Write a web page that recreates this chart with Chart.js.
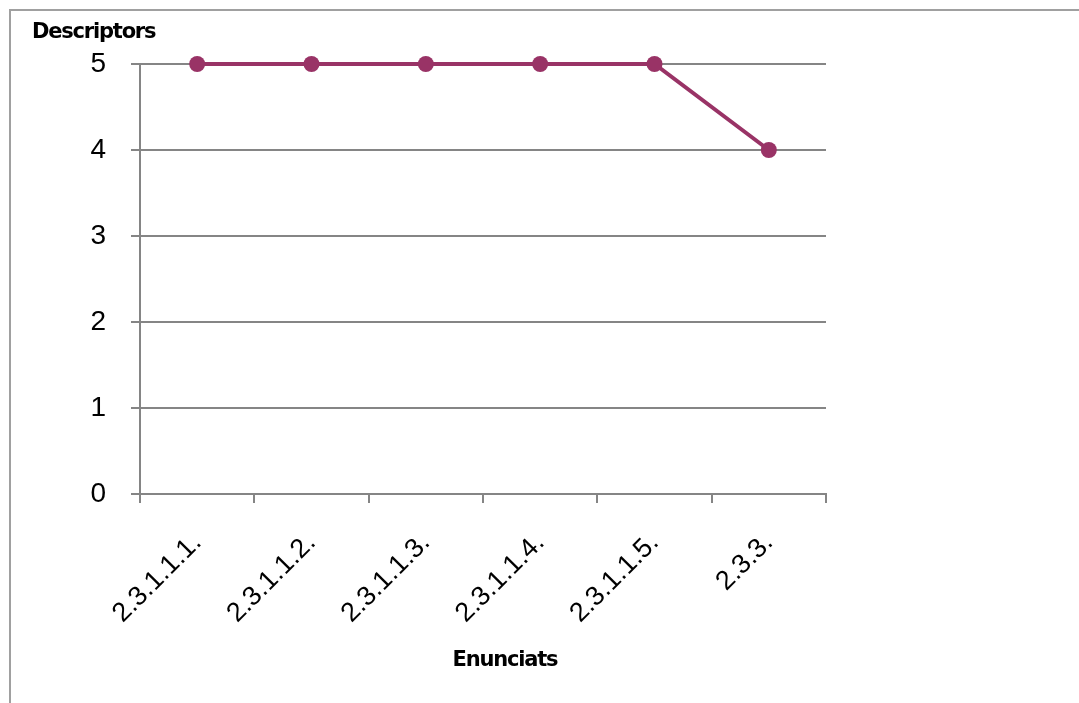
<!DOCTYPE html>
<html>
<head>
<meta charset="utf-8">
<script src="https://cdn.jsdelivr.net/npm/chart.js@4"></script>
<style>
  html, body { margin: 0; padding: 0; background: #fff; }
  #frame {
    position: absolute; left: 9px; top: 9px; width: 1200px; height: 800px;
    border-left: 2px solid #a0a0a0; border-top: 2px solid #a0a0a0;
  }
  #wrap { position: absolute; left: 0; top: 0; width: 1079px; height: 703px; }
</style>
</head>
<body>
<div id="frame"></div>
<div id="wrap"><canvas id="chart" width="1079" height="703"></canvas></div>
<script>
// data
var categories = ['2.3.1.1.1.', '2.3.1.1.2.', '2.3.1.1.3.', '2.3.1.1.4.', '2.3.1.1.5.', '2.3.3.'];
var descriptors = [5, 5, 5, 5, 5, 4];
var yTicks = [0, 1, 2, 3, 4, 5];

var yTitle = 'Descriptors';
var xTitle = 'Enunciats';

var gridColor = '#858585';
var lineColor = '#993366';

// axis titles drawn horizontally, like the original
var axisTitles = {
  id: 'axisTitles',
  afterDraw: function (chart) {
    var ctx = chart.ctx;
    ctx.save();
    ctx.fillStyle = '#000';
    ctx.font = 'bold 21px "DejaVu Sans", Verdana, sans-serif';
    ctx.letterSpacing = '-1.2px';
    ctx.textBaseline = 'middle';
    ctx.textAlign = 'left';
    ctx.fillText(yTitle, 32, 33);
    ctx.textAlign = 'center';
    ctx.fillText(xTitle, 505, 661);
    ctx.restore();
  }
};

new Chart(document.getElementById('chart').getContext('2d'), {
  type: 'line',
  data: {
    labels: categories,
    datasets: [{
      data: descriptors,
      borderColor: lineColor,
      backgroundColor: lineColor,
      borderWidth: 4,
      pointRadius: 8,
      pointHoverRadius: 8,
      pointBackgroundColor: lineColor,
      pointBorderWidth: 0,
      tension: 0,
      clip: false
    }]
  },
  options: {
    responsive: false,
    animation: false,
    events: [],
    layout: { padding: { left: 0, right: 253, top: 64, bottom: 0 } },
    plugins: { legend: { display: false }, tooltip: { enabled: false } },
    scales: {
      x: {
        offset: true,
        afterFit: function (s) { s.height = 209; },
        grid: {
          offset: true,
          drawOnChartArea: false,
          color: gridColor,
          lineWidth: 2,
          tickLength: 9
        },
        border: { color: gridColor, width: 2 },
        ticks: {
          color: '#000',
          font: { family: '"Liberation Sans", Arial, sans-serif', size: 27 },
          minRotation: 45,
          maxRotation: 45,
          padding: 24,
          autoSkip: false
        }
      },
      y: {
        min: 0,
        max: 5,
        afterFit: function (s) { s.width = 140; },
        afterBuildTicks: function (s) { s.ticks = yTicks.map(function (v) { return { value: v }; }); },
        grid: { color: gridColor, lineWidth: 2, tickLength: 9 },
        border: { color: gridColor, width: 2 },
        ticks: {
          color: '#000',
          font: { family: '"Liberation Sans", Arial, sans-serif', size: 28 },
          padding: 25
        }
      }
    }
  },
  plugins: [axisTitles]
});
</script>
</body>
</html>
